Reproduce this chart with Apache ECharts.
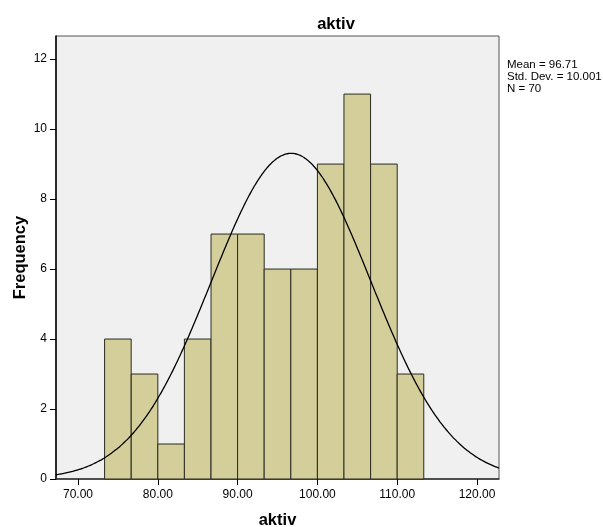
<!DOCTYPE html>
<html>
<head>
<meta charset="utf-8">
<script src="https://cdn.jsdelivr.net/npm/echarts@6/dist/echarts.min.js"></script>
<style>
  html,body{margin:0;padding:0;background:#fff;}
  #main{width:603px;height:527px;}
</style>
</head>
<body>
<div id="main"></div>
<script>
// histogram bins (lower edges) and counts
var binStart = [73.33, 76.67, 80.00, 83.33, 86.67, 90.00, 93.33, 96.67, 100.00, 103.33, 106.67, 110.00];
var binWidth = 3.333;
var counts = [4, 3, 1, 4, 7, 7, 6, 6, 9, 11, 9, 3];
var xTicks = [70, 80, 90, 100, 110, 120];
var yTicks = [0, 2, 4, 6, 8, 10, 12];
var stats = { mean: 96.71, sd: 10.001, n: 70 };

var xMin = 67.24, xMax = 122.76;

var bars = [];
for (var i = 0; i < counts.length; i++) {
  bars.push([binStart[i], binStart[i] + binWidth, counts[i]]);
}

// fitted normal curve from the stated mean / sd / N
var curve = [];
for (var k = 0; k <= 200; k++) {
  var x = xMin + (xMax - xMin) * k / 200;
  var z = (x - stats.mean) / stats.sd;
  var y = stats.n * binWidth * Math.exp(-0.5 * z * z) / (stats.sd * Math.sqrt(2 * Math.PI));
  curve.push([x, y]);
}

var chart = echarts.init(document.getElementById('main'));
var font = 'Liberation Sans, Arial, sans-serif';
var option = {
  animation: false,
  textStyle: { fontFamily: font },
  title: {
    text: 'aktiv',
    left: 331, top: 11,
    textAlign: 'center',
    textStyle: { fontSize: 16.5, fontWeight: 'bold', color: '#000', fontFamily: font }
  },
  graphic: [{
    type: 'text',
    left: 507, top: 59,
    style: {
      text: 'Mean = ' + stats.mean + '\nStd. Dev. = ' + stats.sd.toFixed(3) + '\nN = ' + stats.n,
      font: '11.5px ' + font,
      lineHeight: 12,
      fill: '#000'
    }
  }],
  grid: {
    left: 56, right: 104, top: 36, bottom: 48,
    outerBoundsMode: 'none',
    containLabel: false,
    show: true,
    backgroundColor: '#F0F0F0',
    borderColor: '#555',
    borderWidth: 1
  },
  xAxis: {
    type: 'value',
    min: xMin, max: xMax,
    name: 'aktiv',
    nameLocation: 'middle',
    nameGap: 33,
    nameMoveOverlap: false,
    nameTextStyle: { fontSize: 16.5, fontWeight: 'bold', color: '#000' },
    axisLine: { show: true, lineStyle: { color: '#333', width: 1.5 } },
    axisTick: { show: true, inside: false, length: 6, customValues: xTicks, lineStyle: { color: '#000' } },
    axisLabel: {
      customValues: xTicks, color: '#000', fontSize: 12, margin: 10,
      formatter: function (v) { return v.toFixed(2); }
    },
    splitLine: { show: false }
  },
  yAxis: {
    type: 'value',
    min: 0, max: 12.66,
    name: 'Frequency',
    nameLocation: 'middle',
    nameGap: 27,
    nameMoveOverlap: false,
    nameTextStyle: { fontSize: 16.5, fontWeight: 'bold', color: '#000' },
    axisLine: { show: true, lineStyle: { color: '#000', width: 1.5 } },
    axisTick: { show: true, inside: false, length: 6, customValues: yTicks, lineStyle: { color: '#000' } },
    axisLabel: { customValues: yTicks, color: '#000', fontSize: 12, margin: 9 },
    splitLine: { show: false }
  },
  series: [{
    type: 'custom',
    data: bars,
    encode: { x: [0, 1], y: 2 },
    renderItem: function (params, api) {
      var p0 = api.coord([api.value(0), 0]);
      var p1 = api.coord([api.value(1), api.value(2)]);
      return {
        type: 'rect',
        shape: { x: p0[0], y: p1[1], width: p1[0] - p0[0], height: p0[1] - p1[1] },
        style: { fill: '#D3CE9A', stroke: '#2b2b20', lineWidth: 1 }
      };
    }
  }, {
    type: 'line',
    data: curve,
    showSymbol: false,
    smooth: true,
    lineStyle: { color: '#000', width: 1.3 },
    z: 5
  }]
};
chart.setOption(option);
</script>
</body>
</html>
